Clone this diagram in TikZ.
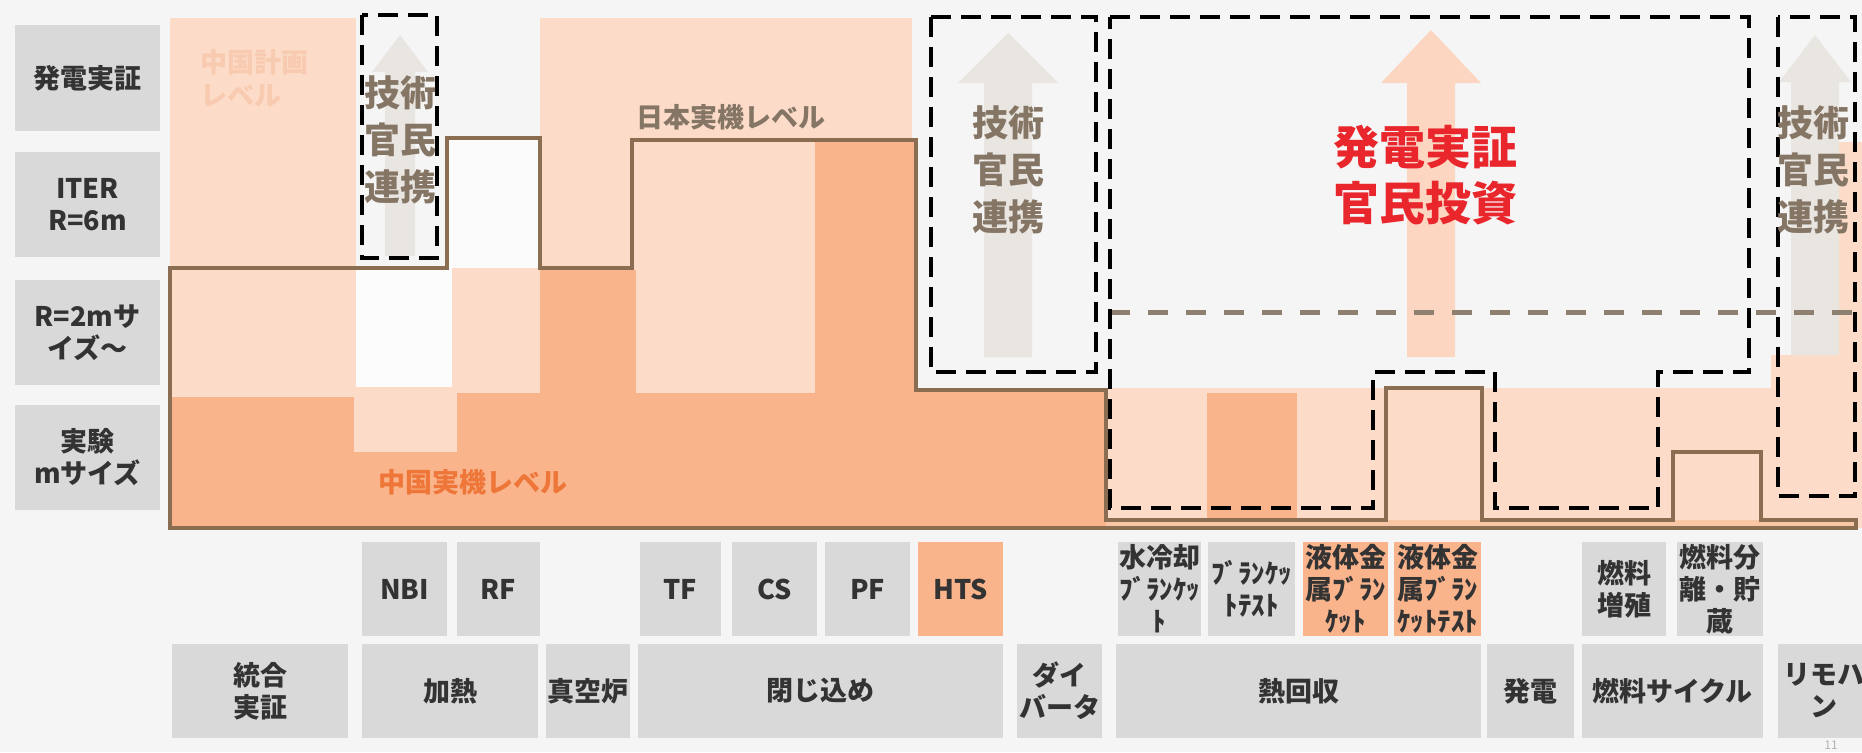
\documentclass[tikz,border=0pt]{standalone}
\usepackage{fontspec}
\setmainfont{Noto Sans CJK JP}
\definecolor{bg}{HTML}{F5F5F5}
\definecolor{lblgray}{HTML}{D9D9D9}
\definecolor{pale}{HTML}{FCDCC8}
\definecolor{orng}{HTML}{F9B48C}
\definecolor{strip}{HTML}{F9C6A6}
\definecolor{brownline}{HTML}{8B6E52}
\definecolor{graydash}{HTML}{8D8071}
\definecolor{graytxt}{HTML}{857565}
\definecolor{redtxt}{HTML}{E8262B}
\definecolor{orangetxt}{HTML}{EE7638}
\definecolor{faint}{HTML}{F8CAB0}
\definecolor{arrgray}{HTML}{E9E5E1}
\definecolor{arrorange}{HTML}{FCD6C0}
\definecolor{dark}{HTML}{333333}
\newcommand\mybox[7]{\node[#6, minimum width={(#4-#2)*0.5pt}, minimum height={(#5-#3)*0.5pt}] (#1) at ({(#2+#4)/2},{(#3+#5)/2}) {#7};}
\newcommand\myarrow[7]{\fill[#1] (#2,#3) -- (#2+#5,#4) -- (#2+#6,#4) -- (#2+#6,#7) -- (#2-#6,#7) -- (#2-#6,#4) -- (#2-#5,#4) -- cycle;}
\begin{document}
\begin{tikzpicture}[x=0.5pt,y=-0.5pt,
  lbl/.style={fill=lblgray, inner sep=0pt, text=dark, font=\bfseries\fontsize{13.5}{16}\selectfont, align=center},
  lblo/.style={lbl, fill=orng},
  dashbox/.style={draw=black, line width=2pt, dash pattern=on 10pt off 5pt},
  gdash/.style={draw=graydash, line width=2.5pt, dash pattern=on 10pt off 9pt},
  prof/.style={draw=brownline, line width=2pt, line join=miter},
  coop/.style={text=graytxt, font=\bfseries\fontsize{18}{23.5}\selectfont, align=center, inner sep=0pt},
  levtxt/.style={font=\bfseries\fontsize{13.5}{16.5}\selectfont, inner sep=0pt, align=left}]
\useasboundingbox (0,0) rectangle (1862,752);
\fill[bg] (0,0) rectangle (1862,752);
% ---- chart fills ----
% 統合実証
\fill[pale] (170,18) rectangle (356,397);
\fill[orng] (170,397) rectangle (356,528);
% NBI / RF
\fill[white!60!bg] (447,138) rectangle (540,268);
\fill[white!70!bg] (356,268) rectangle (452,387);
\fill[pale] (452,268) rectangle (540,393);
\fill[orng] (452,393) rectangle (540,528);
\fill[orng] (356,452) rectangle (452,528);
\fill[pale] (354,387) rectangle (457,452);
% 真空炉
\fill[pale] (540,18) rectangle (636,270);
\fill[orng] (540,270) rectangle (636,528);
% 閉じ込め
\fill[pale] (636,18) rectangle (912,140);
\fill[pale] (636,140) rectangle (815,393);
\fill[orng] (636,393) rectangle (815,528);
\fill[orng] (815,140) rectangle (916,528);
% ダイバータ
\fill[orng] (916,390) rectangle (1106,528);
% 熱回収 .. リモハン
\fill[pale] (1106,388) rectangle (1862,528);
\fill[orng] (1207,393) rectangle (1297,520);
\fill[pale] (1771,355) rectangle (1862,528);
\fill[pale] (1792,142) rectangle (1862,355);
\fill[strip] (1106,520) rectangle (1856,528);
% ---- arrows ----
\myarrow{arrgray}{400}{35}{72}{28}{15}{256}
\myarrow{arrgray}{1008}{33}{83}{50}{24}{357}
\myarrow{arrorange}{1431}{30}{83}{50}{24}{357}
\myarrow{arrgray}{1815}{35}{82}{36}{24}{355}
% ---- Japan level profile ----
\draw[prof] (170,528) -- (170,268) -- (447,268) -- (447,138) -- (540,138) -- (540,268) -- (632,268) -- (632,140) -- (916,140) -- (916,390) -- (1106,390) -- (1106,520) -- (1386,520) -- (1386,388) -- (1482,388) -- (1482,520) -- (1673,520) -- (1673,452) -- (1761,452) -- (1761,520) -- (1856,520) -- (1856,528) -- cycle;
% ---- dashed lines/boxes ----
\draw[gdash] (1110,312) -- (1862,312);
\draw[dashbox] (362,15) rectangle (437,258);
\draw[dashbox] (931,17) rectangle (1096,372);
\draw[dashbox] (1110,17) -- (1749,17) -- (1749,372) -- (1658,372) -- (1658,508) -- (1495,508) -- (1495,372) -- (1373,372) -- (1373,508) -- (1110,508) -- cycle;
\draw[dashbox] (1778,17) rectangle (1855,496);
% ---- texts in chart ----
\node[levtxt, text=faint] (cnplan) at (254,78) {中国計画\\レベル};
\node[levtxt, text=graytxt, anchor=west] (jplevel) at (636,117) {日本実機レベル};
\node[levtxt, text=orangetxt, anchor=west] (cnlevel) at (378,482) {中国実機レベル};
\node[coop] (coop1) at (400,140) {技術\\官民\\連携};
\node[coop] (coop2) at (1008,170) {技術\\官民\\連携};
\node[coop] (coop3) at (1813,170) {技術\\官民\\連携};
\node[text=redtxt, font=\bfseries\fontsize{23}{28}\selectfont, align=center, inner sep=0pt] (invest) at (1425,175) {発電実証\\官民投資};
% ---- left labels ----
\mybox{r1}{15}{25}{160}{131}{lbl}{発電実証}
\mybox{r2}{15}{152}{160}{257}{lbl}{ITER\\R=6m}
\mybox{r3}{15}{280}{160}{385}{lbl}{R=2mサ\\イズ～}
\mybox{r4}{15}{405}{160}{510}{lbl}{実験\\mサイズ}
% ---- sub items ----
\mybox{nbi}{362}{542}{447}{636}{lbl}{NBI}
\mybox{rf}{457}{542}{540}{636}{lbl}{RF}
\mybox{tf}{640}{542}{721}{636}{lbl}{TF}
\mybox{cs}{732}{542}{817}{636}{lbl}{CS}
\mybox{pf}{825}{542}{910}{636}{lbl}{PF}
\mybox{hts}{918}{542}{1003}{636}{lblo}{HTS}
\mybox{wcb}{1118}{542}{1201}{636}{lbl}{水冷却\\ﾌﾞﾗﾝｹｯ\\ﾄ}
\mybox{bt}{1208}{542}{1295}{636}{lbl}{ﾌﾞﾗﾝｹｯ\\ﾄﾃｽﾄ}
\mybox{lmb}{1303}{542}{1388}{636}{lblo}{液体金\\属ﾌﾞﾗﾝ\\ｹｯﾄ}
\mybox{lmbt}{1394}{542}{1481}{636}{lblo}{液体金\\属ﾌﾞﾗﾝ\\ｹｯﾄﾃｽﾄ}
\mybox{fb}{1582}{542}{1666}{636}{lbl}{燃料\\増殖}
\mybox{fs}{1677}{542}{1763}{636}{lbl}{燃料分\\離・貯\\蔵}
% ---- categories ----
\mybox{c1}{172}{644}{348}{738}{lbl}{統合\\実証}
\mybox{c2}{362}{644}{538}{738}{lbl}{加熱}
\mybox{c3}{546}{644}{630}{738}{lbl}{真空炉}
\mybox{c4}{638}{644}{1003}{738}{lbl}{閉じ込め}
\mybox{c5}{1017}{644}{1102}{738}{lbl}{ダイ\\バータ}
\mybox{c6}{1116}{644}{1481}{738}{lbl}{熱回収}
\mybox{c7}{1487}{644}{1574}{738}{lbl}{発電}
\mybox{c8}{1582}{644}{1763}{738}{lbl}{燃料サイクル}
\mybox{c9}{1778}{644}{1870}{738}{lbl}{リモハ\\ン}
\node[text=black!30, font=\fontsize{6}{6}\selectfont, inner sep=0pt] (pgno) at (1831,745) {11};
\end{tikzpicture}
\end{document}
